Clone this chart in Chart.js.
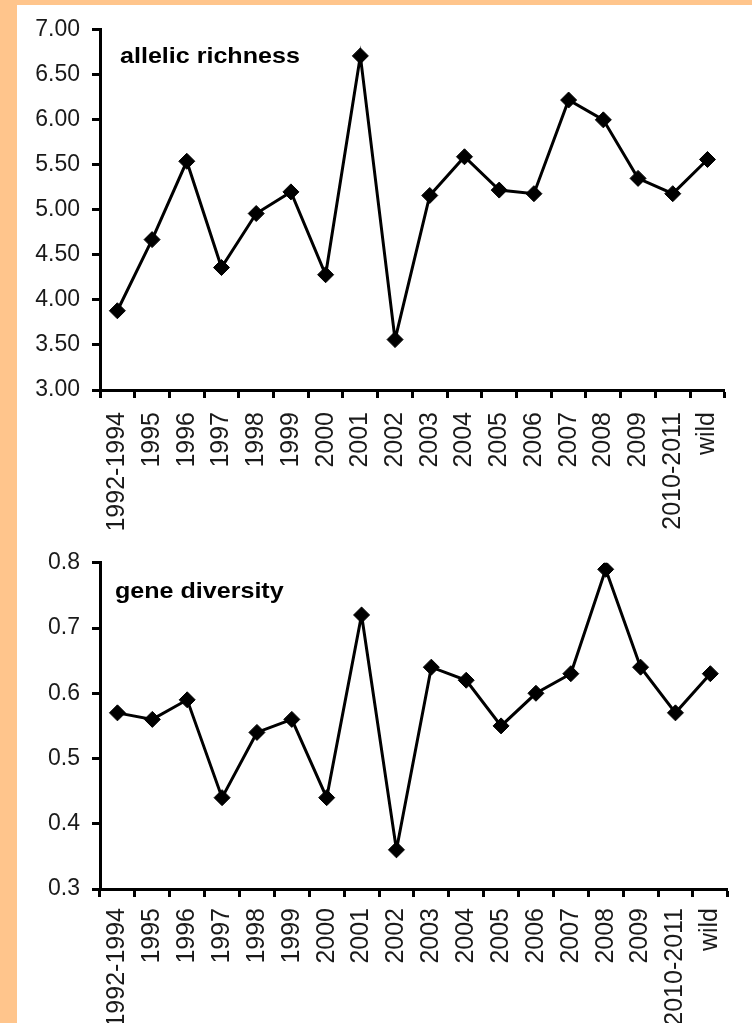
<!DOCTYPE html>
<html>
<head>
<meta charset="utf-8">
<script src="https://cdn.jsdelivr.net/npm/chart.js@4/dist/chart.umd.min.js"></script>
<style>
  html, body { margin:0; padding:0; }
  body { width:752px; height:1023px; background:#FFC58C; position:relative; overflow:hidden; }
  #panel { position:absolute; left:17px; top:5px; width:735px; height:1018px; background:#fff; }
  .wrap { position:absolute; left:17px; width:735px; }
  #w1 { top:4px; height:531px; }
  #w2 { top:537px; height:486px; }
</style>
</head>
<body>
<div id="panel"></div>
<div class="wrap" id="w1"><canvas id="c1"></canvas></div>
<div class="wrap" id="w2"><canvas id="c2"></canvas></div>
<script>
const categories = ["1992-1994","1995","1996","1997","1998","1999","2000","2001","2002","2003","2004","2005","2006","2007","2008","2009","2010-2011","wild"];
const allelicRichness = [3.88,4.67,5.54,4.36,4.96,5.20,4.28,6.71,3.56,5.16,5.59,5.22,5.18,6.22,6.00,5.35,5.18,5.56];
const geneDiversity = [0.57,0.56,0.59,0.44,0.54,0.56,0.44,0.72,0.36,0.64,0.62,0.55,0.60,0.63,0.79,0.64,0.57,0.63];
const richnessTicks = [3.00,3.50,4.00,4.50,5.00,5.50,6.00,6.50,7.00];
const diversityTicks = [0.3,0.4,0.5,0.6,0.7,0.8];

const FONT = "'Liberation Sans', Arial, sans-serif";

const panelTitle = {
  id: 'panelTitle',
  afterDraw(chart, args, opts) {
    const ctx = chart.ctx, a = chart.chartArea;
    ctx.save();
    ctx.font = 'bold 22px ' + FONT;
    ctx.fillStyle = '#000';
    ctx.textBaseline = 'alphabetic';
    ctx.textAlign = 'left';
    ctx.translate(a.left + opts.dx, a.top + opts.dy);
    ctx.scale(1.14, 1);
    ctx.fillText(opts.text, 0, 0);
    ctx.restore();
  }
};

function makeChart(id, data, ticks, decimals, title, pad, xHeight, xPad, tdx, tdy) {
  const c = document.getElementById(id);
  const w = c.parentElement;
  c.width = w.clientWidth; c.height = w.clientHeight;
  return new Chart(c, {
    type: 'line',
    data: {
      labels: categories,
      datasets: [{
        data: data,
        borderColor: '#000',
        borderWidth: 3,
        pointStyle: 'rectRot',
        pointRadius: 8,
        pointBackgroundColor: '#000',
        pointBorderColor: '#000',
        pointBorderWidth: 1,
        tension: 0,
        fill: false
      }]
    },
    options: {
      responsive: false,
      animation: false,
      layout: { padding: pad },
      plugins: {
        legend: { display: false },
        tooltip: { enabled: false },
        panelTitle: { text: title, dx: tdx, dy: tdy }
      },
      scales: {
        x: {
          type: 'category',
          offset: true,
          border: { display: true, color: '#000', width: 3 },
          grid: { display: true, offset: true, drawOnChartArea: false, drawTicks: true, tickLength: 8, tickColor: '#000', tickWidth: 3 },
          ticks: { color: '#1a1a1a', font: { family: FONT, size: 25 }, minRotation: 90, maxRotation: 90, autoSkip: false, padding: xPad },
          afterFit(s) { s.height = xHeight; }
        },
        y: {
          min: ticks[0], max: ticks[ticks.length - 1],
          afterBuildTicks(s) { s.ticks = ticks.map(v => ({ value: v })); },
          border: { display: true, color: '#000', width: 3 },
          grid: { display: true, drawOnChartArea: false, drawTicks: true, tickLength: 8, tickColor: '#000', tickWidth: 3 },
          ticks: { color: '#1a1a1a', font: { family: FONT, size: 23 }, padding: 12, callback: v => Number(v).toFixed(decimals) },
          afterFit(s) { s.width = 83; }
        }
      }
    },
    plugins: [panelTitle]
  });
}

makeChart('c1', allelicRichness, richnessTicks, 2, 'allelic richness', { top: 23, right: 19, left: 0, bottom: 0 }, 145, 14, 20, 33);
makeChart('c2', geneDiversity, diversityTicks, 1, 'gene diversity', { top: 19, right: 24, left: 0, bottom: 0 }, 134, 11, 15, 35);
</script>
</body>
</html>
